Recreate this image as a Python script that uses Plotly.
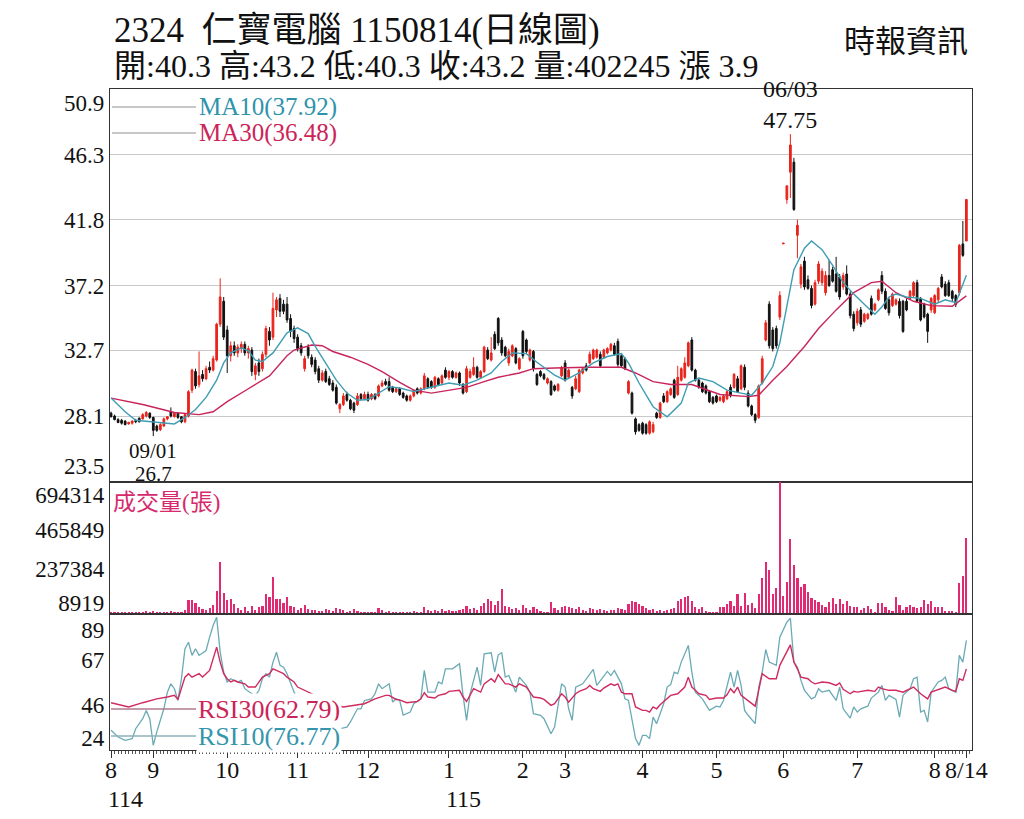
import plotly.graph_objects as go
from plotly.subplots import make_subplots

# daily candles, 114/08 .. 115/08/14
opens = [
    28.3, 28.1, 27.85, 27.8, 27.75, 27.55, 27.6, 27.8, 27.95, 27.9, 28.1, 28.3,
    28.0, 27.4, 27.15, 27.4, 27.9, 28.4, 28.05, 28.3, 28.05, 27.7, 28.1, 29.9, 31.2, 30.3, 31.0, 30.7, 31.5, 31.3, 32.0, 34.5, 36.1,
    34.1, 32.3, 33.0, 32.5, 32.8, 33.1, 32.5, 32.7, 31.0, 31.8, 31.4, 32.4, 34.0, 33.6, 35.5, 36.3, 35.9, 35.9, 34.9, 34.2,
    33.6, 33.0, 31.4, 32.9, 32.2, 32.0, 31.4, 30.6, 31.2, 30.7, 30.4, 30.1, 28.6, 28.9, 29.6, 29.2, 29.0, 28.9, 29.6, 29.3,
    29.6, 29.3, 29.6, 29.5, 30.2, 30.5, 30.5, 30.1, 29.8, 30.0, 29.7, 29.5, 29.2, 29.5, 30.0, 29.7, 30.0, 30.7, 30.5, 30.1, 30.7, 30.4, 31.3,
    30.8, 31.2, 30.8, 31.1, 30.3, 29.8, 30.8, 31.0, 31.5, 30.8, 31.2, 32.7, 32.0, 33.8, 34.9, 33.4, 32.9, 31.8, 32.3, 32.8, 31.4,
    34.0, 33.4, 32.0, 32.6, 31.0, 31.2, 31.0, 30.4, 30.5, 30.2, 29.9, 30.9,
    31.8, 30.8, 30.1, 30.0, 29.8, 31.1, 31.6, 31.8, 32.1, 32.2, 32.4, 32.2, 32.5, 32.7, 33.0, 33.3, 32.3, 32.1, 29.7, 29.7, 27.9, 27.5,
    27.6, 27.5, 26.9, 27.0, 28.3, 28.0, 29.5, 29.1, 29.6, 30.6, 29.6, 30.6, 30.8, 31.6, 33.4, 31.3, 30.6, 30.4, 30.2, 29.8,
    29.4, 29.5, 29.2, 29.1, 29.3, 30.1, 30.1, 30.7, 30.0, 31.5, 29.7, 28.8, 28.2, 28.0, 30.4, 33.4, 35.9, 34.1, 34.2, 35.0,
    40.1, 43.2, 45.1, 45.8, 40.7, 37.3, 38.9, 37.6, 37.0, 35.9, 37.5, 37.4, 36.7, 37.9, 38.3, 38.0, 37.8, 37.1, 38.0, 36.6, 35.2,
    34.6, 35.5, 34.7, 34.9, 36.3, 35.5, 36.2, 37.9, 36.8, 36.2, 35.8, 35.9, 36.1, 36.1, 36.1, 36.3, 36.5, 37.4, 36.3, 35.9, 35.2, 35.5,
    35.3, 36.2, 37.8, 37.3, 37.4, 36.8, 36.5, 36.7, 40.1, 40.3,
]
highs = [
    28.4, 28.2, 27.95, 27.9, 27.8, 27.7, 27.8, 27.9, 28.0, 28.3, 28.45, 28.35,
    28.05, 27.5, 27.6, 28.0, 28.1, 28.7, 28.35, 28.35, 28.1, 28.3, 29.9, 31.4, 31.4, 32.6, 31.3, 31.6, 31.9, 32.3, 34.6, 37.7, 36.4,
    34.4, 33.3, 33.3, 33.1, 33.3, 33.3, 33.0, 32.9, 31.8, 32.1, 32.6, 34.4, 34.3, 36.7, 36.4, 36.6, 36.2, 36.4, 35.2, 34.4,
    33.8, 33.2, 32.3, 33.1, 32.4, 32.2, 31.6, 31.3, 31.4, 30.9, 30.6, 30.3, 29.0, 29.7, 29.8, 29.3, 29.1, 29.7, 29.7, 29.8,
    29.8, 29.7, 29.7, 30.3, 30.6, 30.7, 30.8, 30.2, 30.1, 30.1, 29.8, 29.6, 29.6, 29.95, 30.1, 30.1, 31.1, 30.8, 30.6, 30.9, 30.8, 31.0, 31.5,
    31.3, 31.3, 31.2, 31.2, 30.4, 31.6, 31.4, 32.2, 31.6, 31.3, 33.0, 32.9, 33.6, 34.0, 35.0, 33.6, 33.0, 32.8, 33.1, 32.9, 32.2,
    34.1, 33.5, 32.8, 32.7, 31.1, 31.3, 31.1, 30.8, 30.6, 30.3, 30.4, 31.6,
    32.0, 31.4, 30.2, 30.9, 31.4, 31.5, 31.8, 32.6, 32.8, 32.8, 32.6, 32.8, 32.9, 33.2, 33.2, 33.5, 32.4, 32.2, 30.6, 29.8, 28.0, 27.6,
    27.7, 27.6, 27.8, 27.7, 28.4, 29.1, 29.7, 29.9, 30.1, 30.7, 31.6, 31.5, 32.2, 33.3, 33.6, 31.4, 30.7, 30.5, 30.3, 29.9,
    29.5, 29.6, 29.5, 29.6, 29.9, 30.3, 31.1, 30.9, 31.7, 31.7, 29.9, 28.9, 28.3, 30.3, 32.3, 34.8, 36.1, 34.3, 34.4, 36.8,
    40.15, 44.15, 47.75, 46.1, 41.8, 38.7, 39.2, 37.9, 37.2, 37.6, 38.9, 38.4, 38.2, 39.0, 38.5, 39.2, 38.0, 38.1, 38.6, 36.8, 35.4,
    35.6, 35.7, 35.3, 35.3, 36.5, 36.0, 37.0, 38.2, 37.0, 36.4, 36.7, 36.3, 36.3, 36.2, 36.3, 36.9, 37.5, 37.6, 36.4, 36.0, 35.3, 36.4,
    36.6, 37.1, 38.0, 37.5, 37.6, 36.9, 36.6, 40.1, 41.7, 43.2,
]
lows = [
    28.0, 27.8, 27.6, 27.5, 27.45, 27.5, 27.5, 27.6, 27.65, 27.85, 28.0, 27.9,
    26.7, 27.0, 27.05, 27.35, 27.8, 28.0, 28.0, 27.9, 27.6, 27.6, 28.0, 29.7, 30.0, 30.1, 30.5, 30.6, 31.1, 31.2, 31.9, 34.3, 33.4,
    31.1, 31.9, 32.3, 32.2, 32.5, 32.3, 32.1, 30.9, 30.6, 30.9, 31.2, 32.2, 33.0, 33.4, 35.0, 35.0, 35.2, 34.6, 33.6, 33.2,
    32.6, 32.3, 31.2, 32.1, 31.5, 31.0, 30.4, 30.5, 30.4, 30.2, 29.8, 28.9, 28.3, 28.8, 29.1, 28.5, 28.3, 28.8, 29.2, 29.2,
    29.1, 29.2, 29.2, 29.4, 30.1, 30.2, 29.8, 29.7, 29.7, 29.5, 29.3, 29.1, 29.1, 29.4, 29.6, 29.6, 29.9, 30.0, 30.0, 30.0, 30.2, 30.3, 30.7,
    30.6, 30.7, 30.7, 30.2, 29.6, 29.7, 30.7, 30.9, 30.7, 30.7, 31.1, 32.0, 31.9, 32.7, 33.0, 32.3, 32.2, 31.6, 32.2, 31.7, 31.3,
    32.1, 32.4, 31.9, 31.2, 30.2, 30.8, 30.6, 30.3, 29.5, 29.8, 29.8, 30.8,
    30.5, 30.7, 29.3, 29.9, 29.7, 31.0, 31.2, 31.7, 32.0, 32.1, 31.5, 32.1, 32.4, 32.6, 32.3, 31.5, 31.5, 31.3, 29.6, 28.2, 26.8, 27.0,
    26.8, 26.8, 26.8, 26.9, 27.9, 27.9, 29.0, 29.0, 29.5, 29.3, 29.5, 30.5, 30.7, 31.5, 31.2, 30.5, 30.0, 29.7, 29.6, 29.0,
    28.9, 29.0, 29.1, 29.0, 29.2, 29.4, 30.0, 29.7, 29.9, 29.9, 28.7, 28.1, 27.6, 27.9, 30.3, 33.3, 32.8, 32.6, 32.8, 34.8,
    40.1, 42.9, 43.3, 42.4, 39.1, 37.0, 36.9, 36.9, 35.6, 35.8, 37.3, 37.2, 36.5, 37.1, 37.4, 36.7, 36.2, 36.9, 36.5, 34.9, 34.0,
    34.4, 34.3, 34.6, 34.8, 35.1, 35.4, 36.1, 36.6, 35.5, 35.1, 35.7, 35.8, 34.9, 33.9, 35.4, 36.2, 36.4, 36.0, 34.7, 34.9, 33.2, 35.3,
    35.2, 36.0, 37.0, 36.4, 36.4, 36.1, 35.7, 36.5, 39.2, 40.3,
]
closes = [
    28.05, 27.85, 27.65, 27.6, 27.5, 27.65, 27.75, 27.7, 27.7, 28.2, 28.35, 28.0,
    27.1, 27.1, 27.5, 27.9, 28.05, 28.1, 28.3, 28.0, 27.7, 28.2, 29.8, 31.3, 30.2, 30.9, 30.7, 31.4, 31.3, 32.1, 34.5, 36.4, 33.6,
    32.3, 33.0, 32.5, 32.9, 33.1, 32.5, 32.8, 31.2, 31.6, 31.2, 32.4, 34.2, 33.4, 35.6, 36.2, 35.4, 35.4, 34.8, 34.0, 33.5,
    32.8, 32.5, 32.1, 32.3, 31.7, 31.2, 30.6, 31.1, 30.5, 30.3, 29.9, 29.0, 28.9, 29.5, 29.2, 28.6, 28.5, 29.5, 29.3, 29.6,
    29.2, 29.6, 29.3, 30.2, 30.4, 30.3, 29.9, 29.8, 30.0, 29.6, 29.4, 29.2, 29.5, 29.9, 29.7, 30.0, 30.9, 30.1, 30.1, 30.8, 30.3, 30.9, 30.8,
    31.2, 30.8, 31.1, 30.4, 29.7, 31.4, 31.2, 31.5, 30.8, 31.2, 32.9, 32.1, 32.5, 32.8, 33.2, 32.5, 32.3, 32.6, 33.0, 31.8, 32.1,
    32.3, 32.6, 32.7, 31.4, 30.3, 30.9, 30.7, 30.7, 29.6, 29.9, 30.3, 31.5,
    30.6, 31.3, 29.5, 30.7, 31.3, 31.4, 31.3, 32.4, 32.7, 32.7, 31.6, 32.7, 32.8, 33.1, 32.4, 31.7, 31.6, 31.4, 30.5, 28.3, 27.0, 27.1,
    26.9, 26.9, 27.7, 27.5, 28.0, 29.0, 29.1, 29.8, 30.0, 29.4, 30.8, 31.4, 31.8, 33.2, 31.3, 30.6, 30.1, 29.8, 29.7, 29.1,
    29.0, 29.1, 29.4, 29.5, 29.8, 29.5, 31.0, 29.8, 31.6, 30.1, 28.8, 28.2, 27.8, 30.2, 32.1, 34.6, 33.0, 32.8, 33.0, 36.5,
    40.15, 44.15, 47.0, 42.5, 41.4, 38.5, 37.1, 37.0, 35.8, 37.4, 38.7, 38.2, 37.9, 37.2, 37.5, 36.8, 36.4, 37.9, 36.6, 35.1, 34.2,
    35.4, 34.5, 35.2, 35.2, 35.2, 35.9, 36.9, 36.8, 35.6, 35.3, 36.6, 36.2, 35.1, 34.0, 35.5, 36.8, 37.4, 36.1, 34.8, 35.0, 34.0, 36.3,
    36.5, 37.0, 37.1, 36.5, 36.5, 36.3, 35.9, 40.0, 39.3, 43.2,
]
volumes = [
    12000, 10000, 9500, 11000, 8919, 10000, 9500, 13000, 10000, 12000, 14000, 11000,
    16000, 12000, 10000, 11000, 9500, 14000, 10000, 9500, 12000, 20000, 75000, 76000, 57000, 35000, 25000, 20000, 30000, 45000, 121000, 272000, 113000,
    75000, 78000, 52000, 30000, 20000, 35000, 18000, 43000, 22000, 35000, 40000, 104000, 87000, 194000, 78000, 78000, 60000, 92000, 43000, 35000,
    20000, 30000, 45000, 25000, 20000, 22000, 15000, 18000, 24000, 20000, 18000, 30000, 25000, 20000, 12000, 18000, 28000, 15000, 10000, 12000,
    10000, 9500, 12000, 30000, 20000, 10000, 15000, 9800, 9500, 9200, 10000, 12000, 9800, 14000, 10000, 12000, 35000, 20000, 15000, 22000, 14000, 25000, 18000,
    20000, 15000, 18000, 22000, 28000, 40000, 25000, 30000, 20000, 43000, 60000, 78000, 69000, 45000, 69000, 130000, 40000, 35000, 26000, 30000, 20000,
    45000, 30000, 20000, 35000, 28000, 15000, 12000, 10000, 61000, 30000, 22000, 35000,
    40000, 35000, 30000, 25000, 38000, 20000, 18000, 30000, 28000, 22000, 25000, 20000, 18000, 22000, 20000, 30000, 25000, 20000, 52000, 69000, 61000, 52000,
    40000, 30000, 20000, 25000, 15000, 20000, 18000, 22000, 25000, 30000, 70000, 80000, 92000, 95000, 70000, 35000, 28000, 35000, 17000, 12000,
    9500, 10000, 35000, 38000, 52000, 69000, 40000, 104000, 40000, 109000, 47000, 57000, 30000, 104000, 191000, 273000, 231000, 104000, 135000, 694314,
    95000, 170000, 394000, 257000, 187000, 142000, 156000, 118000, 82000, 75000, 64000, 47000, 35000, 64000, 82000, 52000, 78000, 52000, 69000, 40000, 35000,
    35000, 23000, 30000, 43000, 26000, 9600, 57000, 57000, 35000, 21000, 17000, 92000, 47000, 21000, 35000, 49000, 35000, 30000, 38000, 73000, 52000, 66000,
    35000, 35000, 38000, 17000, 17000, 17000, 12000, 161000, 200000, 402245,
]

# moving averages / RSI, read at the day index where the curve was measured
ma10_day = [0, 4, 7, 12, 18, 21, 24, 27, 30, 32, 34, 37, 39, 41, 43, 46, 48, 50, 53, 56, 58, 61, 64, 67, 70, 73, 75, 79,
            82, 86, 90, 93, 96, 100, 104, 108, 111, 114, 118, 121, 126, 129, 133, 137, 141, 145, 147, 150, 154, 158,
            162, 164, 167, 171, 175, 179, 182, 185, 188, 190, 192, 194, 197, 199, 202, 205, 208, 211, 214, 217, 219,
            221, 223, 226, 230, 234, 237, 240, 243]
ma10_val = [29.35, 28.4, 27.8, 27.7, 27.55, 28.0, 28.55, 29.4, 30.6, 31.8, 32.5, 32.85, 32.65, 32.0, 31.9, 32.5, 33.2,
            33.9, 34.25, 33.85, 32.95, 31.8, 30.6, 29.7, 29.2, 29.25, 29.55, 30.15, 30.05, 29.8, 30.05, 30.25, 30.4,
            30.25, 30.6, 31.1, 31.9, 32.5, 32.45, 31.85, 30.95, 30.6, 31.1, 31.8, 32.25, 32.45, 31.8, 30.4, 28.75, 28.05,
            29.0, 30.4, 30.75, 30.5, 29.9, 29.7, 29.55, 30.4, 31.55, 33.2, 35.7, 38.3, 39.8, 40.3, 39.7, 38.6, 37.4,
            36.6, 35.9, 35.2, 35.7, 36.4, 36.6, 36.4, 36.3, 35.9, 36.2, 36.0, 37.92]
ma30_day = [0, 9, 18, 25, 29, 33, 39, 45, 50, 52, 57, 60, 63, 68, 73, 77, 82, 86, 91, 99, 101, 106, 110, 116, 120, 126,
            135, 145, 149, 154, 159, 165, 173, 181, 184, 188, 192, 197, 201, 206, 211, 216, 219, 223, 228, 233, 239, 243]
ma30_val = [29.35, 28.9, 28.35, 28.2, 28.4, 29.1, 30.0, 30.9, 32.3, 32.7, 33.05, 33.0, 32.6, 32.2, 31.7, 31.2, 30.45,
            29.9, 29.7, 30.0, 30.1, 30.5, 30.8, 31.1, 31.4, 31.45, 31.5, 31.5, 31.1, 30.5, 30.3, 30.3, 29.6, 29.45,
            29.55, 30.6, 31.55, 32.95, 34.2, 35.5, 36.7, 37.4, 37.5, 36.7, 36.1, 35.8, 35.75, 36.48]

rsi10_day = [0, 2, 4, 6, 7, 9, 10, 11, 12, 13, 15, 16, 17, 18, 19, 20, 21, 22, 23, 24, 25, 27, 28, 29, 30, 31, 32, 33,
             34, 36, 37, 38, 40, 41, 42, 43, 44, 45, 46, 47, 48, 49, 50, 51, 52, 53, 64, 65, 67, 68, 70, 71, 72, 74, 75,
             76, 77, 79, 80, 81, 82, 83, 85, 86, 88, 89, 90, 92, 93, 94, 95, 97, 99, 100, 101, 102, 104, 105, 106, 108,
             109, 110, 111, 112, 113, 115, 116, 118, 119, 120, 122, 123, 125, 126, 128, 129, 130, 131, 132, 134, 136,
             137, 138, 140, 141, 142, 143, 145, 146, 147, 148, 149, 150, 151, 152, 153, 154, 155, 157, 158, 159, 160,
             161, 162, 164, 165, 166, 168, 170, 172, 173, 174, 176, 177, 178, 179, 180, 181, 183, 184, 185, 186, 187,
             189, 190, 192, 193, 194, 195, 196, 197, 199, 200, 201, 202, 204, 206, 207, 208, 210, 211, 212, 213, 215,
             216, 218, 219, 220, 221, 223, 224, 225, 227, 228, 229, 230, 231, 232, 233, 235, 236, 237, 238, 240, 241,
             242, 243]
rsi10_val = [32.5, 29.2, 27.6, 28.4, 33.3, 38.2, 42.3, 38.2, 25.1, 31.7, 43.1, 51.3, 55.4, 53.0, 47.2, 57.9, 72.7, 75.9,
             69.4, 72.7, 69.4, 71.8, 78.4, 84.1, 88.2, 71.0, 61.2, 56.3, 57.9, 56.3, 57.1, 53.0, 50.5, 49.7, 52.1, 57.9,
             60.4, 58.7, 66.1, 71.0, 64.5, 63.6, 60.4, 55.4, 51.3, 48.0, 25.1, 33.3, 34.1, 36.6, 43.1, 43.1, 47.2, 48.0,
             50.5, 55.4, 53.0, 55.4, 46.4, 48.0, 47.2, 40.0, 41.5, 45.6, 48.0, 62.0, 51.3, 51.3, 56.3, 55.4, 62.8, 62.8,
             65.3, 49.7, 37.4, 50.5, 63.6, 54.6, 70.2, 70.7, 61.2, 69.7, 70.7, 58.7, 59.5, 51.3, 58.7, 54.6, 51.3, 40.7,
             39.9, 38.2, 30.8, 34.1, 55.4, 53.8, 43.1, 37.4, 53.8, 55.4, 60.4, 62.5, 54.6, 59.5, 61.5, 59.5, 62.0, 55.4,
             48.0, 47.2, 37.4, 28.4, 25.1, 30.0, 30.0, 28.4, 39.0, 35.8, 45.6, 53.8, 55.0, 61.2, 60.4, 66.1, 74.3, 61.2,
             51.3, 48.0, 42.3, 44.4, 44.0, 47.2, 61.2, 53.8, 62.0, 54.6, 42.3, 39.9, 35.8, 53.8, 61.2, 72.3, 66.1, 64.5,
             78.4, 85.8, 87.7, 66.1, 63.6, 57.1, 52.2, 48.0, 48.9, 53.0, 51.3, 52.2, 47.2, 53.8, 43.1, 38.5, 44.0, 41.5,
             43.1, 44.4, 48.4, 51.3, 54.6, 47.2, 49.7, 47.7, 39.0, 49.7, 53.0, 57.9, 58.7, 41.5, 42.3, 36.6, 51.3, 56.3,
             57.1, 58.7, 53.0, 51.3, 69.4, 66.1, 76.77]
rsi30_day = [0, 5, 9, 11, 13, 16, 18, 19, 21, 22, 23, 25, 26, 28, 29, 30, 31, 32, 33, 34, 35, 36, 38, 39, 41, 42, 43, 45,
             46, 47, 49, 50, 52, 53, 55, 56, 58, 64, 66, 69, 72, 75, 78, 79, 81, 82, 84, 87, 88, 89, 90, 92, 93, 95, 96,
             99, 100, 101, 102, 103, 105, 106, 108, 109, 110, 112, 113, 115, 116, 118, 119, 120, 122, 123, 125, 126, 128,
             129, 130, 132, 133, 135, 136, 137, 139, 140, 142, 143, 144, 145, 146, 148, 149, 151, 152, 153, 154, 155,
             156, 158, 159, 161, 162, 163, 164, 165, 166, 167, 169, 170, 172, 174, 175, 176, 177, 178, 179, 181, 183,
             184, 185, 187, 189, 190, 192, 193, 194, 195, 196, 198, 199, 200, 202, 204, 206, 207, 208, 210, 211, 212,
             215, 217, 218, 219, 221, 223, 225, 227, 228, 230, 232, 233, 235, 237, 239, 240, 241, 242, 243]
rsi30_val = [46.1, 44.0, 46.1, 47.2, 48.0, 48.9, 49.7, 47.7, 58.7, 60.4, 58.7, 60.4, 58.7, 62.0, 67.7, 73.5, 66.1, 60.4,
             57.9, 56.3, 57.1, 56.3, 55.4, 53.8, 53.8, 56.3, 58.7, 60.4, 62.8, 62.0, 60.4, 58.7, 56.3, 53.8, 52.2, 51.3,
             50.0, 44.8, 44.0, 44.8, 45.6, 48.0, 49.7, 49.7, 47.7, 47.5, 46.1, 46.7, 48.0, 51.0, 48.9, 48.4, 49.7, 50.5,
             51.7, 52.2, 48.9, 46.7, 49.7, 53.0, 51.3, 55.4, 57.9, 56.3, 59.9, 55.4, 55.4, 53.8, 55.4, 53.8, 51.3, 48.9,
             48.4, 47.7, 44.8, 45.6, 50.5, 48.9, 46.4, 50.5, 51.7, 53.0, 54.6, 53.0, 51.7, 53.3, 55.4, 54.6, 55.4, 51.3,
             50.5, 50.5, 44.0, 42.3, 42.3, 41.5, 44.0, 43.1, 45.1, 48.0, 49.7, 50.5, 52.1, 53.8, 58.7, 53.8, 52.2, 50.5,
             49.7, 47.7, 48.4, 48.4, 50.0, 53.0, 51.0, 53.8, 49.7, 47.2, 44.4, 52.2, 60.4, 57.9, 57.9, 64.5, 71.8, 74.6,
             66.1, 62.8, 58.7, 57.9, 56.3, 55.4, 56.3, 55.9, 54.6, 55.8, 52.7, 50.5, 51.7, 51.3, 52.2, 51.7, 53.8, 53.0,
             52.2, 52.2, 51.3, 53.0, 53.8, 50.5, 48.0, 51.3, 52.7, 53.8, 52.2, 51.7, 57.9, 57.1, 62.79]

month_day = [0, 12, 33, 53, 73, 96, 117, 129, 151, 172, 191, 212, 234, 243]
month_txt = ["8", "9", "10", "11", "12", "1", "2", "3", "4", "5", "6", "7", "8", "8/14"]
year_day = [0, 96]
year_txt = ["114", "115"]

price_ticks = [23.5, 28.1, 32.7, 37.2, 41.8, 46.3, 50.9]
vol_ticks = [8919, 237384, 465849, 694314]
rsi_ticks = [24, 46, 67, 89]

days = list(range(len(closes)))

W, H = 1024, 819
ML, MR, MT, MB = 110, 52, 89, 69
PW, PH = W - ML - MR, H - MT - MB
SERIF = "Liberation Serif, 'Noto Sans CJK TC', serif"
RED, BLACK = "#e8241c", "#111111"
TEAL, CRIMSON, VOLC = "#3f9db3", "#c9245c", "#e02a73"


def px_x(p):
    return (p - ML) / PW


def px_y(p):
    return (H - MB - p) / PH


def nudge(v, px, lo, hi, h):
    # move a tick label by px pixels (positive = up) inside its panel
    return v + px * (hi - lo) / h


fig = make_subplots(rows=3, cols=1, shared_xaxes=True, vertical_spacing=0,
                    row_heights=[393, 132, 136])

fig.add_trace(go.Candlestick(
    x=days, open=opens, high=highs, low=lows, close=closes,
    increasing=dict(line=dict(color=RED, width=1), fillcolor=RED),
    decreasing=dict(line=dict(color=BLACK, width=1), fillcolor=BLACK),
    whiskerwidth=0, hoverinfo="skip"), row=1, col=1)
fig.add_trace(go.Scatter(x=ma30_day, y=ma30_val, mode="lines",
                         line=dict(color=CRIMSON, width=1.4)), row=1, col=1)
fig.add_trace(go.Scatter(x=ma10_day, y=ma10_val, mode="lines",
                         line=dict(color=TEAL, width=1.4)), row=1, col=1)

fig.add_trace(go.Bar(x=days, y=volumes, width=0.62,
                     marker=dict(color=VOLC, line=dict(width=0))), row=2, col=1)

fig.add_trace(go.Scatter(x=rsi10_day, y=rsi10_val, mode="lines",
                         line=dict(color="#6aaab5", width=1.3)), row=3, col=1)
fig.add_trace(go.Scatter(x=rsi30_day, y=rsi30_val, mode="lines",
                         line=dict(color="#cf2b5f", width=1.4)), row=3, col=1)

p_lo, p_hi = 23.5, 50.9
v_lo, v_hi = 0, 694314
r_lo, r_hi = 22.8, 89.8

axis_common = dict(showline=True, linecolor="#333", linewidth=1.2, mirror=True, automargin=False,
                   zeroline=False, tickfont=dict(family=SERIF, size=23, color="#111"))

fig.update_yaxes(range=[p_lo, p_hi], row=1, col=1, showgrid=False, ticks="",
                 tickvals=[nudge(23.5, 16, p_lo, p_hi, 393)] + price_ticks[1:-1] + [nudge(50.9, -14, p_lo, p_hi, 393)],
                 ticktext=[f"{t}" for t in price_ticks],
                 minor=dict(tickvals=price_ticks[1:-1], showgrid=True, gridcolor="#c9c9c9", gridwidth=1.3, ticks=""),
                 **axis_common)
fig.update_yaxes(range=[v_lo, v_hi], row=2, col=1, showgrid=False, ticks="",
                 tickvals=[nudge(8919, 9, v_lo, v_hi, 132), 237384, nudge(465849, -5, v_lo, v_hi, 132),
                           nudge(694314, -13, v_lo, v_hi, 132)],
                 ticktext=[str(t) for t in vol_ticks], **axis_common)
fig.update_yaxes(range=[r_lo, r_hi], row=3, col=1, showgrid=False, ticks="",
                 tickvals=[nudge(24, 10, r_lo, r_hi, 136), nudge(46, -2, r_lo, r_hi, 136), 67,
                           nudge(89, -14, r_lo, r_hi, 136)],
                 ticktext=[str(t) for t in rsi_ticks], **axis_common)

fig.update_xaxes(range=[-0.3, 244.6], showgrid=False, showticklabels=False, ticks="",
                 rangeslider=dict(visible=False), **axis_common)
fig.update_xaxes(row=3, col=1, showticklabels=True, tickmode="array", tickangle=0,
                 tickvals=month_day, ticktext=month_txt, ticks="outside", ticklen=7,
                 ticklabelstandoff=-9,
                 tickcolor="#333", tickfont=dict(family=SERIF, size=24, color="#111"),
                 minor=dict(tickmode="linear", tick0=0, dtick=1, ticks="outside", ticklen=3,
                            tickcolor="#555"))

ann = []
for d, t in zip(year_day, year_txt):
    ann.append(dict(x=d, y=px_y(799), xref="x3", yref="paper", text=t, showarrow=False,
                    xanchor="left", yanchor="middle", xshift=-5,
                    font=dict(family=SERIF, size=24, color="#111")))

# title lines and panel labels
ann += [
    dict(x=px_x(112), y=px_y(30), text="2324  仁寶電腦 1150814(日線圖)",
         font=dict(family=SERIF, size=35, color="#111"), xanchor="left"),
    dict(x=px_x(112), y=px_y(66), text="開:40.3 高:43.2 低:40.3 收:43.2 量:402245 漲 3.9",
         font=dict(family=SERIF, size=32, color="#111"), xanchor="left"),
    dict(x=px_x(970), y=px_y(42), text="時報資訊",
         font=dict(family=SERIF, size=31, color="#111"), xanchor="right"),
    dict(x=px_x(197), y=px_y(107), text="MA10(37.92)",
         font=dict(family=SERIF, size=25, color="#2f93ab"), xanchor="left"),
    dict(x=px_x(197), y=px_y(133), text="MA30(36.48)",
         font=dict(family=SERIF, size=25, color="#cc2458"), xanchor="left"),
    dict(x=px_x(111), y=px_y(502), text="成交量(張)",
         font=dict(family=SERIF, size=23, color="#d62a6c"), xanchor="left"),
    dict(x=px_x(196), y=px_y(709), text="RSI30(62.79)", bgcolor="white",
         font=dict(family=SERIF, size=26, color="#cc2458"), xanchor="left"),
    dict(x=px_x(196), y=px_y(736), text="RSI10(76.77)", bgcolor="white",
         font=dict(family=SERIF, size=26, color="#3595ab"), xanchor="left"),
]
for a in ann[len(year_day):]:
    a.update(xref="paper", yref="paper", showarrow=False, yanchor="middle")

# high / low markers
hi_i = highs.index(max(highs))
lo_i = lows.index(min(lows))
ann += [
    dict(x=hi_i, y=highs[hi_i], xref="x", yref="y", text=f"06/03<br>{highs[hi_i]}", showarrow=False,
         yanchor="bottom", yshift=0, borderpad=0,
         font=dict(family=SERIF, size=24, color="#111")),
    dict(x=lo_i, y=lows[lo_i], xref="x", yref="y", text="09/01", showarrow=False,
         yanchor="top", yshift=-2, borderpad=0,
         font=dict(family=SERIF, size=21, color="#111")),
    dict(x=lo_i, y=lows[lo_i], xref="x", yref="y", text=f"{lows[lo_i]}", showarrow=False,
         yanchor="top", yshift=-25, borderpad=0,
         font=dict(family=SERIF, size=21, color="#111")),
]

shapes = [
    dict(type="line", xref="paper", yref="paper", x0=px_x(112), x1=px_x(196), y0=px_y(107), y1=px_y(107),
         line=dict(color="#b5b5b5", width=1.5)),
    dict(type="line", xref="paper", yref="paper", x0=px_x(112), x1=px_x(196), y0=px_y(133), y1=px_y(133),
         line=dict(color="#b5b5b5", width=1.5)),
    dict(type="line", xref="paper", yref="paper", x0=px_x(111), x1=px_x(196), y0=px_y(709), y1=px_y(709),
         line=dict(color="#b07a8c", width=1.5)),
    dict(type="line", xref="paper", yref="paper", x0=px_x(111), x1=px_x(196), y0=px_y(736), y1=px_y(736),
         line=dict(color="#8db2ba", width=1.5)),
]

fig.update_layout(
    width=W, height=H, autosize=False,
    margin=dict(l=ML, r=MR, t=MT, b=MB),
    paper_bgcolor="white", plot_bgcolor="white",
    showlegend=False, bargap=0,
    annotations=ann, shapes=shapes,
    font=dict(family=SERIF, color="#111"),
)

fig.write_html("out.html", config={"displayModeBar": False},
               post_script="document.body.style.margin='0';")
